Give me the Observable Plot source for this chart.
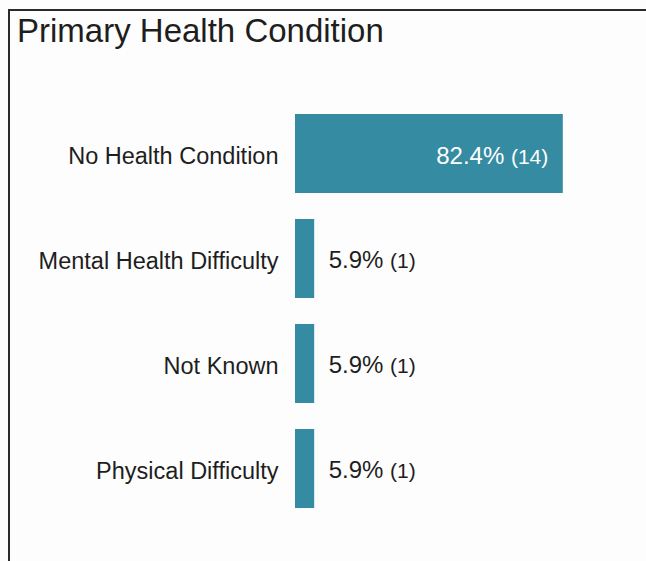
<!DOCTYPE html>
<html>
<head>
<meta charset="utf-8">
<script src="https://cdn.jsdelivr.net/npm/d3@7"></script>
<script src="https://cdn.jsdelivr.net/npm/@observablehq/plot@0.6"></script>
<style>
  html, body { margin: 0; padding: 0; background: #fdfdfd; }
  #wrap { position: relative; width: 646px; height: 561px; overflow: hidden; font-family: "Liberation Sans", Arial, sans-serif; }
  #frame { position: absolute; left: 8px; top: 9px; width: 660px; height: 560px; border-left: 2px solid #2a2a2a; border-top: 2px solid #2a2a2a; }
  #title { position: absolute; left: 17px; top: 11px; font-size: 33px; color: #1e1e1e; line-height: 40px; white-space: nowrap; }
  #chart { position: absolute; left: 0; top: 0; }
</style>
</head>
<body>
<div id="wrap">
  <div id="frame"></div>
  <div id="title">Primary Health Condition</div>
  <div id="chart"></div>
</div>
<script>
const categories = ["No Health Condition", "Mental Health Difficulty", "Not Known", "Physical Difficulty"];
const percents = [82.4, 5.9, 5.9, 5.9];
const counts = [14, 1, 1, 1];

const data = categories.map((c, i) => ({category: c, pct: percents[i], n: counts[i], label: `${percents[i].toFixed(1)}% (${counts[i]})`}));
const inside = data.filter(d => d.pct >= 50);
const outside = data.filter(d => d.pct < 50);

const chart = Plot.plot({
  width: 646,
  height: 561,
  marginLeft: 295,
  marginRight: 26,
  marginTop: 87,
  marginBottom: 25,
  style: {fontFamily: '"Liberation Sans", Arial, sans-serif', background: "transparent", color: "#1e1e1e"},
  x: {domain: [0, 100], axis: null},
  y: {domain: categories, padding: 0.243, label: null, tickSize: 0, tickPadding: 17, tickFormat: d => d},
  marks: [
    Plot.barX(data, {x: "pct", y: "category", fill: "#348ba2"}),
    Plot.axisY({tickSize: 0, tickPadding: 17, fontSize: 23.5, dy: 2, label: null, fill: "#1e1e1e"}),
    Plot.text(inside, {x: "pct", y: "category", text: "label", textAnchor: "end", dx: -15, dy: 2, fill: "white", fontSize: 24, className: "vlabel"}),
    Plot.text(outside, {x: "pct", y: "category", text: "label", textAnchor: "start", dx: 14, dy: 1, fill: "#1e1e1e", fontSize: 24, className: "vlabel"})
  ]
});
document.getElementById("chart").appendChild(chart);

// render the count part in a smaller size
d3.select(chart).selectAll("g.vlabel text").each(function() {
  const t = this.textContent;
  const m = t.match(/^(\S+)\s(\(.*\))$/);
  if (!m) return;
  const sel = d3.select(this);
  sel.text(null);
  sel.append("tspan").text(m[1] + " ");
  sel.append("tspan").attr("font-size", 21).text(m[2]);
});
</script>
</body>
</html>
